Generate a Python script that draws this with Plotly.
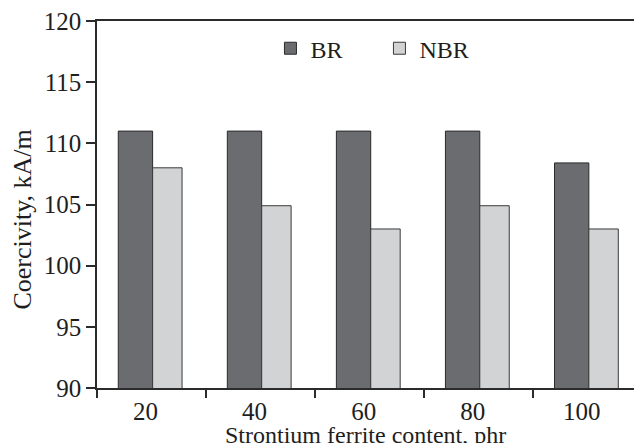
import plotly.graph_objects as go

categories = ["20", "40", "60", "80", "100"]
br_values = [111, 111, 111, 111, 108.4]
nbr_values = [108, 104.9, 103, 104.9, 103]
y_ticks = [90, 95, 100, 105, 110, 115, 120]

FONT = "Liberation Serif"
AX = "#2b2b2b"
TXT = "#1e1e1e"

fig = go.Figure()
fig.add_trace(go.Bar(x=categories, y=br_values, name="BR", offset=-0.305, width=0.315,
                     marker=dict(color="#6b6c70", line=dict(color="#2a2a2a", width=1))))
fig.add_trace(go.Bar(x=categories, y=nbr_values, name="NBR", offset=0.01, width=0.27,
                     marker=dict(color="#d2d3d5", line=dict(color="#3a3a3a", width=1))))

fig.update_layout(
    width=634, height=443, autosize=False,
    margin=dict(l=97, r=0, t=21, b=55),
    paper_bgcolor="white", plot_bgcolor="white",
    barmode="overlay",
    font=dict(family=FONT, size=24, color=TXT),
    showlegend=True,
    legend=dict(orientation="h", x=0.323, y=0.986, xanchor="left", yanchor="top",
                bgcolor="rgba(0,0,0,0)", font=dict(size=24, family=FONT, color=TXT),
                entrywidth=64, entrywidthmode="pixels", itemwidth=30),
    xaxis=dict(type="category", range=[-0.5, 4.424], tickson="boundaries",
               ticks="outside", ticklen=8, tickwidth=1.5, tickcolor=AX,
               showline=True, linecolor=AX, linewidth=1.5, mirror=True,
               showgrid=False, zeroline=False, ticklabelshift=-6,
               tickfont=dict(size=25, family=FONT, color=TXT)),
    yaxis=dict(range=[90, 120], tickvals=y_ticks, ticks="outside", ticklen=9,
               tickwidth=1.5, tickcolor=AX, showline=True, linecolor=AX,
               linewidth=1.5, showgrid=False, zeroline=False,
               tickfont=dict(size=25, family=FONT, color=TXT)),
)

fig.add_annotation(text="Coercivity, kA/m", textangle=-90, xref="paper", yref="paper",
                   x=-0.139, y=0.46, xanchor="center", yanchor="middle", showarrow=False,
                   font=dict(size=26, family=FONT, color=TXT))
fig.add_annotation(text="Strontium ferrite content, phr", xref="paper", yref="paper",
                   x=0.5, y=-0.168, xanchor="center", yanchor="bottom", showarrow=False,
                   font=dict(size=24, family=FONT, color=TXT))

fig.write_html("out.html", config={"displayModeBar": False},
               post_script="document.body.style.margin='0';")
